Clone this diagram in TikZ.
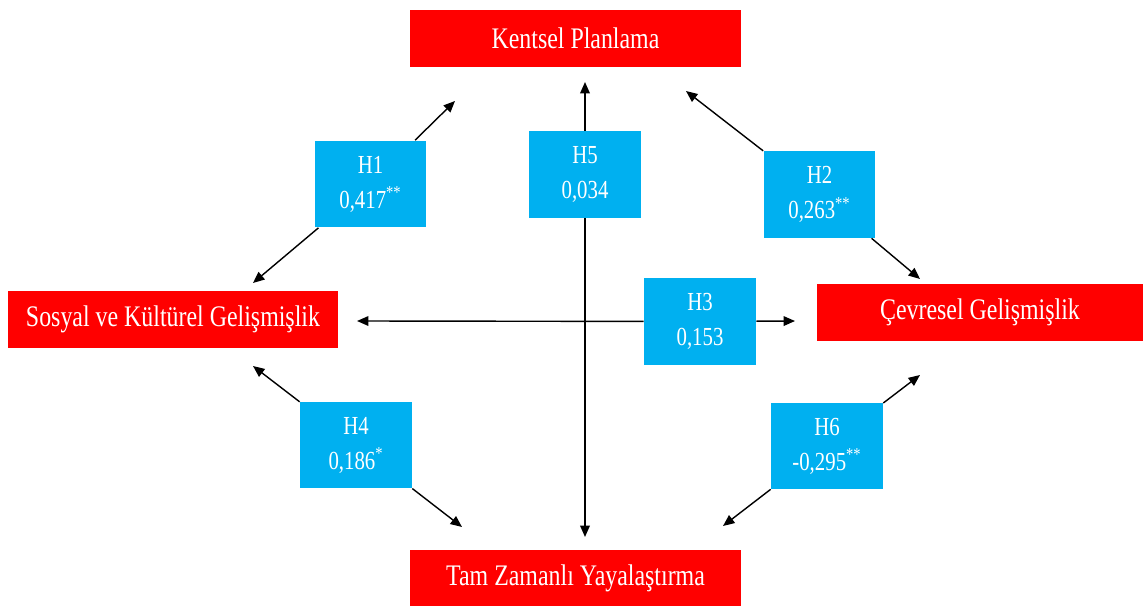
\documentclass[tikz,border=0pt]{standalone}
\usepackage{fontspec}
\setmainfont{Liberation Serif}[FakeStretch=0.8]
\usetikzlibrary{arrows.meta}
\definecolor{boxred}{RGB}{255,0,0}
\definecolor{boxblue}{RGB}{0,176,240}

\begin{document}
\begin{tikzpicture}[x=0.02cm,y=-0.02cm,
  factor/.style={fill=boxred, text=white, minimum width=6.62cm, minimum height=1.14cm, inner sep=0pt, font=\fontsize{17}{20}\selectfont},
  hyp/.style={fill=boxblue, text=white, minimum width=2.24cm, minimum height=1.74cm, inner sep=0pt, align=center, font=\fontsize{14.8}{19.9}\selectfont},
  link/.style={line width=0.8pt, -{Triangle[length=6.5pt,width=5.5pt]}}]
  \useasboundingbox (0,0) rectangle (1144,608);

  % Factors
  \node[factor] (kp) at (575.5,38.5) {Kentsel Planlama};
  \node[factor, minimum width=6.6cm] (sk) at (173,319.5) {Sosyal ve Kültürel Gelişmişlik};
  \node[factor, minimum width=6.52cm] (cg) at (980,312.5) {Çevresel Gelişmişlik};
  \node[factor] (tz) at (575.5,578) {Tam Zamanlı Yayalaştırma};

  % Hypotheses
  \node[hyp] (h1) at (370.5,184) {H1\\0,417\textsuperscript{**}};
  \node[hyp] (h2) at (819.5,194.5) {H2\\0,263\textsuperscript{**}};
  \node[hyp] (h3) at (700,321.5) {H3\\0,153};
  \node[hyp] (h4) at (356,445) {H4\\0,186\textsuperscript{*}};
  \node[hyp] (h5) at (585,174.5) {H5\\0,034};
  \node[hyp] (h6) at (827,446) {H6\\-0,295\textsuperscript{**}};

  % Arrow ends
  \coordinate (h1a) at (253,283);
  \coordinate (h1b) at (455,101);
  \coordinate (h2a) at (686,91);
  \coordinate (h2b) at (920,279);
  \coordinate (h3a) at (357,321);
  \coordinate (h3b) at (795,321);
  \coordinate (h4a) at (253,366);
  \coordinate (h4b) at (462,527);
  \coordinate (h5a) at (585,82);
  \coordinate (h5b) at (585,537);
  \coordinate (h6a) at (723,526);
  \coordinate (h6b) at (920,375);

  % Paths
  \draw[link] (h1) -- (h1a);
  \draw[link] (h1) -- (h1b);
  \draw[link] (h2) -- (h2a);
  \draw[link] (h2) -- (h2b);
  \draw[link] (h3) -- (h3a);
  \draw[link] (h3) -- (h3b);
  \draw[link] (h4) -- (h4a);
  \draw[link] (h4) -- (h4b);
  \draw[link] (h5) -- (h5a);
  \draw[link] (h5) -- (h5b);
  \draw[link] (h6) -- (h6a);
  \draw[link] (h6) -- (h6b);
\end{tikzpicture}
\end{document}
